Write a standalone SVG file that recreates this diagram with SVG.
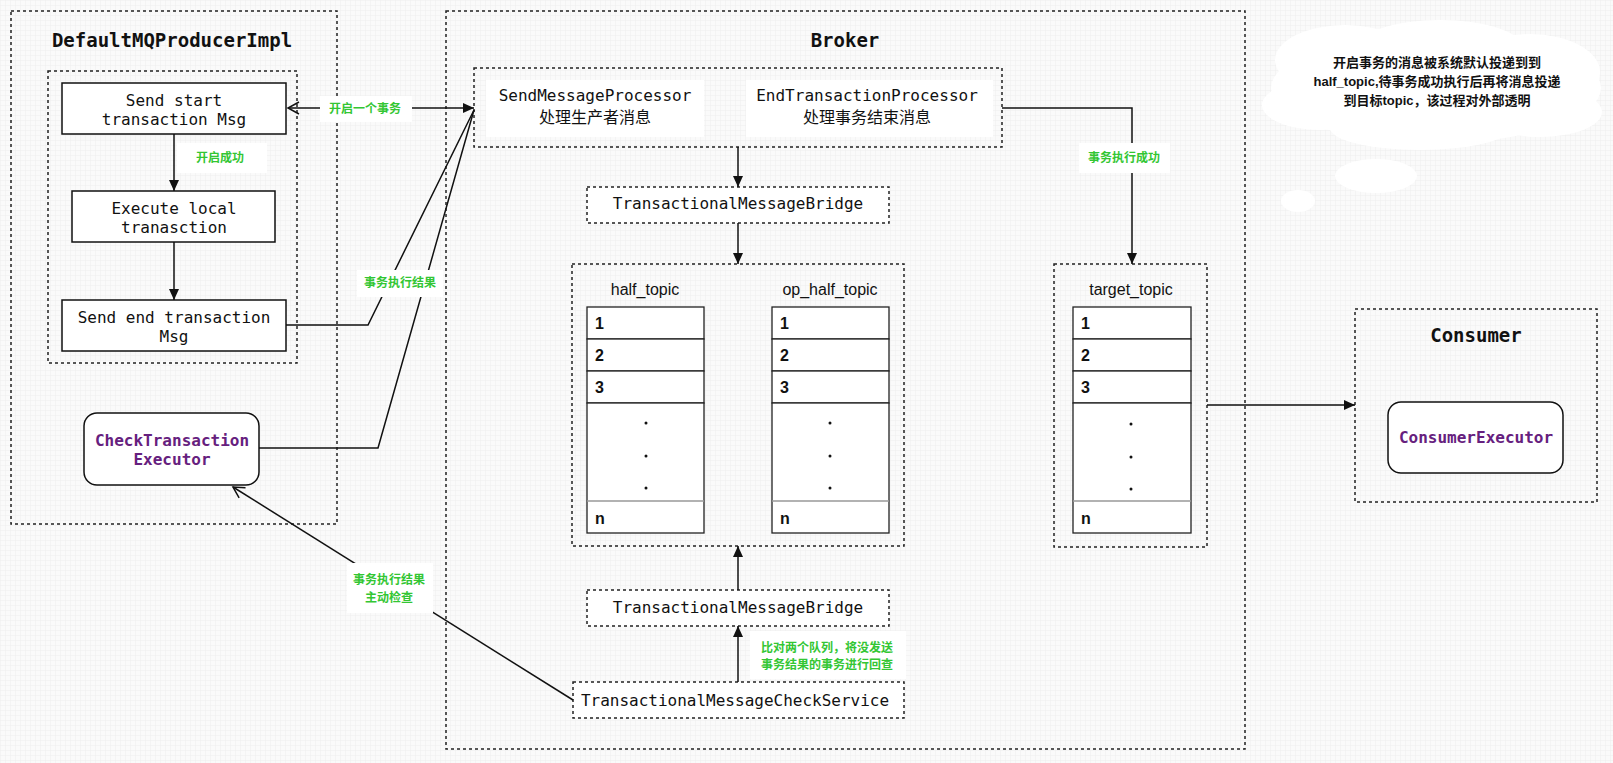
<svg xmlns="http://www.w3.org/2000/svg" width="1613" height="763" viewBox="0 0 1613 763">
<style>
.dot{fill:none;stroke:#222;stroke-width:1.5;stroke-dasharray:3 3}
.dotw{fill:#fff;stroke:#222;stroke-width:1.5;stroke-dasharray:3 3}
.box{fill:#fff;stroke:#111;stroke-width:1.5}
.cell{fill:#fff;stroke:#222;stroke-width:1.3}
.ln{fill:none;stroke:#111;stroke-width:1.5}
.mono{font-family:"DejaVu Sans Mono","Liberation Mono","Noto Sans CJK SC",monospace;fill:#111}
.title{font-family:"DejaVu Sans Mono","Liberation Mono",monospace;font-weight:bold;font-size:19px;fill:#111;text-anchor:middle}
.t16{font-size:16px;text-anchor:middle}
.purple{font-family:"DejaVu Sans Mono","Liberation Mono",monospace;font-weight:bold;font-size:16px;fill:#66207e;text-anchor:middle}
.cn{font-family:"Noto Sans CJK SC","Liberation Sans",sans-serif;font-size:16px;fill:#111;text-anchor:middle}
.green{font-family:"Liberation Sans","Noto Sans CJK SC",sans-serif;font-weight:bold;font-size:12px;fill:#33c633;text-anchor:middle}
.lbg{fill:#fff}
.sans{font-family:"Liberation Sans",Arial,sans-serif;fill:#111}
.topic{font-size:16px;text-anchor:middle}
.num{font-size:16px;font-weight:bold}
.cloudt{font-family:"Liberation Sans","Noto Sans CJK SC",sans-serif;font-weight:bold;font-size:13px;fill:#111;text-anchor:middle}
</style>
<defs>
<pattern id="grid" width="5" height="5" patternUnits="userSpaceOnUse">
<path d="M5 0H0V5" fill="none" stroke="#ededed" stroke-width="1"/>
</pattern>
<marker id="af" markerUnits="userSpaceOnUse" markerWidth="12" markerHeight="10" refX="11" refY="5" orient="auto">
<path d="M0,0 L11,5 L0,10 Z" fill="#111"/>
</marker>
<marker id="ao" markerUnits="userSpaceOnUse" markerWidth="14" markerHeight="14" refX="12" refY="7" orient="auto-start-reverse">
<path d="M1,1 L12,7 L1,13" fill="none" stroke="#111" stroke-width="1.5"/>
</marker>
<g id="dots3">
<circle cx="0" cy="0" r="1.5" fill="#111"/>
<circle cx="0" cy="33" r="1.5" fill="#111"/>
<circle cx="0" cy="65" r="1.5" fill="#111"/>
</g>
</defs>
<rect width="1613" height="763" fill="#fafafa"/>
<rect width="1613" height="763" fill="url(#grid)"/>

<!-- cloud -->
<g id="cloud" fill="#fff">
<ellipse cx="1436" cy="88" rx="165" ry="55"/>
<ellipse cx="1345" cy="60" rx="70" ry="35"/>
<ellipse cx="1440" cy="50" rx="85" ry="30"/>
<ellipse cx="1530" cy="72" rx="70" ry="38"/>
<ellipse cx="1320" cy="105" rx="58" ry="25"/>
<ellipse cx="1420" cy="128" rx="90" ry="22"/>
<ellipse cx="1540" cy="112" rx="62" ry="25"/>
<ellipse cx="1376" cy="176" rx="41" ry="17"/>
<ellipse cx="1298" cy="201" rx="17" ry="11"/>
<text class="cloudt" x="1437" y="67">开启事务的消息被系统默认投递到到</text>
<text class="cloudt" x="1437" y="86">half_topic,待事务成功执行后再将消息投递</text>
<text class="cloudt" x="1437" y="105">到目标topic，该过程对外部透明</text>
</g>

<!-- producer -->
<g id="producer">
<rect class="dot" x="11" y="11" width="326" height="513"/>
<text class="title" x="172" y="47">DefaultMQProducerImpl</text>
<rect class="dot" x="48" y="71" width="249" height="292"/>
</g>
<g id="send-start">
<rect class="box" x="62" y="83" width="224" height="51"/>
<text class="mono t16" x="174" y="106">Send start</text>
<text class="mono t16" x="174" y="125">transaction Msg</text>
</g>
<g id="execute-local">
<rect class="box" x="72" y="191" width="203" height="51"/>
<text class="mono t16" x="174" y="214">Execute local</text>
<text class="mono t16" x="174" y="233">tranasction</text>
</g>
<g id="send-end">
<rect class="box" x="62" y="300" width="224" height="51"/>
<text class="mono t16" x="174" y="323">Send end transaction</text>
<text class="mono t16" x="174" y="342">Msg</text>
</g>
<g id="check-executor">
<rect class="box" x="84" y="413" width="175" height="72" rx="13"/>
<text class="purple" x="172" y="446">CheckTransaction</text>
<text class="purple" x="172" y="465">Executor</text>
</g>

<!-- broker -->
<g id="broker">
<rect class="dot" x="446" y="11" width="799" height="738"/>
<text class="title" x="845" y="47">Broker</text>
</g>
<g id="processors">
<rect class="dot" x="474" y="68" width="528" height="79"/>
<rect fill="#fff" x="486" y="80" width="218" height="57"/>
<rect fill="#fff" x="746" y="80" width="247" height="57"/>
<text class="mono t16" x="595" y="101">SendMessageProcessor</text>
<text class="cn" x="595" y="123">处理生产者消息</text>
<text class="mono t16" x="867" y="101">EndTransactionProcessor</text>
<text class="cn" x="867" y="123">处理事务结束消息</text>
</g>
<g id="bridge-top">
<rect class="dotw" x="587" y="187" width="302" height="36"/>
<text class="mono t16" x="738" y="209">TransactionalMessageBridge</text>
</g>
<g id="topics">
<rect class="dot" x="572" y="264" width="332" height="282"/>
<text class="sans topic" x="645" y="295">half_topic</text>
<text class="sans topic" x="830" y="295">op_half_topic</text>
</g>
<g id="half-topic">
<rect class="cell" x="587" y="307" width="117" height="32"/>
<rect class="cell" x="587" y="339" width="117" height="32"/>
<rect class="cell" x="587" y="371" width="117" height="32"/>
<rect class="cell" x="587" y="403" width="117" height="130"/>
<line x1="587" y1="501" x2="704" y2="501" stroke="#999" stroke-width="1.3"/>
<text class="sans num" x="595" y="329">1</text>
<text class="sans num" x="595" y="361">2</text>
<text class="sans num" x="595" y="393">3</text>
<text class="sans num" x="595" y="524">n</text>
<use href="#dots3" x="646" y="423"/>
</g>
<g id="op-half-topic">
<rect class="cell" x="772" y="307" width="117" height="32"/>
<rect class="cell" x="772" y="339" width="117" height="32"/>
<rect class="cell" x="772" y="371" width="117" height="32"/>
<rect class="cell" x="772" y="403" width="117" height="130"/>
<line x1="772" y1="501" x2="889" y2="501" stroke="#999" stroke-width="1.3"/>
<text class="sans num" x="780" y="329">1</text>
<text class="sans num" x="780" y="361">2</text>
<text class="sans num" x="780" y="393">3</text>
<text class="sans num" x="780" y="524">n</text>
<use href="#dots3" x="830" y="423"/>
</g>
<g id="target-topic">
<rect class="dot" x="1054" y="264" width="153" height="283"/>
<text class="sans topic" x="1131" y="295">target_topic</text>
<rect class="cell" x="1073" y="307" width="118" height="32"/>
<rect class="cell" x="1073" y="339" width="118" height="32"/>
<rect class="cell" x="1073" y="371" width="118" height="32"/>
<rect class="cell" x="1073" y="403" width="118" height="130"/>
<line x1="1073" y1="501" x2="1191" y2="501" stroke="#999" stroke-width="1.3"/>
<text class="sans num" x="1081" y="329">1</text>
<text class="sans num" x="1081" y="361">2</text>
<text class="sans num" x="1081" y="393">3</text>
<text class="sans num" x="1081" y="524">n</text>
<use href="#dots3" x="1131" y="424"/>
</g>
<g id="bridge-bottom">
<rect class="dotw" x="587" y="590" width="302" height="36"/>
<text class="mono t16" x="738" y="613">TransactionalMessageBridge</text>
</g>
<g id="check-service">
<rect class="dotw" x="573" y="682" width="331" height="36"/>
<text class="mono t16" x="735" y="706">TransactionalMessageCheckService</text>
</g>

<!-- consumer -->
<g id="consumer">
<rect class="dot" x="1355" y="309" width="242" height="193"/>
<text class="title" x="1476" y="342">Consumer</text>
</g>
<g id="consumer-executor">
<rect class="box" x="1388" y="402" width="175" height="71" rx="13"/>
<text class="purple" x="1476" y="443">ConsumerExecutor</text>
</g>

<!-- connectors -->
<g id="connectors">
<path class="ln" d="M174,134 V191" marker-end="url(#af)"/>
<path class="ln" d="M174,242 V300" marker-end="url(#af)"/>
<path class="ln" d="M288,108 H474" marker-start="url(#ao)" marker-end="url(#af)"/>
<path class="ln" d="M286,325 H368 L474,110"/>
<path class="ln" d="M259,448 H378 L474,110"/>
<path class="ln" d="M573,700 L233,487" marker-end="url(#ao)"/>
<path class="ln" d="M738,147 V187" marker-end="url(#af)"/>
<path class="ln" d="M738,223 V264" marker-end="url(#af)"/>
<path class="ln" d="M738,682 V626" marker-end="url(#af)"/>
<path class="ln" d="M738,590 V546" marker-end="url(#af)"/>
<path class="ln" d="M1002,108 H1132 V264" marker-end="url(#af)"/>
<path class="ln" d="M1207,405 H1355" marker-end="url(#af)"/>
</g>

<!-- connector labels -->
<g id="labels">
<rect class="lbg" x="177" y="143" width="90" height="30"/>
<text class="green" x="220" y="162">开启成功</text>
<rect class="lbg" x="320" y="96" width="92" height="26"/>
<text class="green" x="365" y="113">开启一个事务</text>
<rect class="lbg" x="357" y="270" width="86" height="27"/>
<text class="green" x="400" y="287">事务执行结果</text>
<rect class="lbg" x="347" y="563" width="86" height="50"/>
<text class="green" x="389" y="584">事务执行结果</text>
<text class="green" x="389" y="602">主动检查</text>
<rect class="lbg" x="1079" y="143" width="91" height="30"/>
<text class="green" x="1124" y="162">事务执行成功</text>
<rect class="lbg" x="750" y="631" width="156" height="48"/>
<text class="green" x="827" y="652">比对两个队列，将没发送</text>
<text class="green" x="827" y="669">事务结果的事务进行回查</text>
</g>
</svg>
